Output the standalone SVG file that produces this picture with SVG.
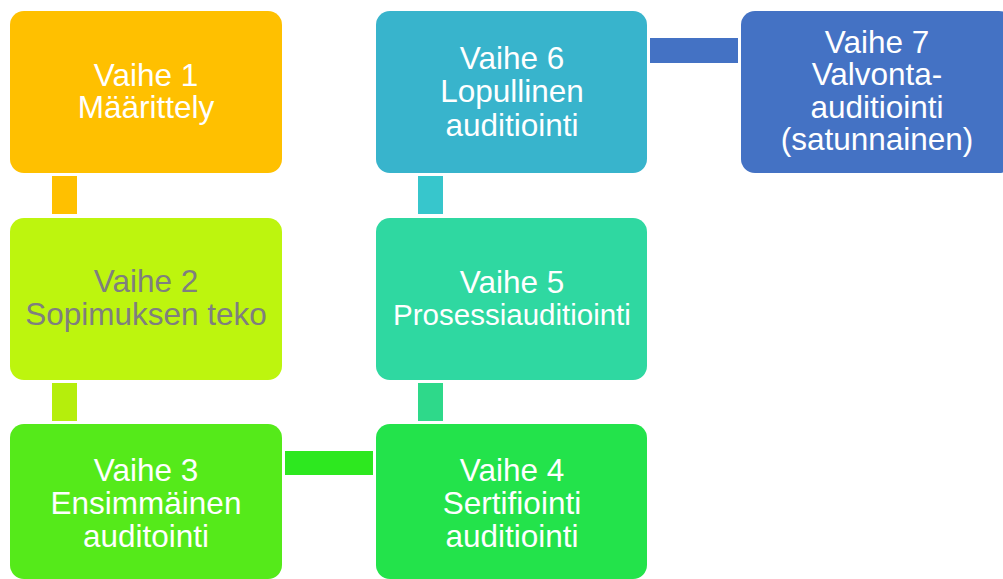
<svg xmlns="http://www.w3.org/2000/svg" width="1003" height="579" viewBox="0 0 1003 579">
<style>
.box{stroke:none}
.t{font-family:"Liberation Sans",Arial,sans-serif;font-size:31.5px;fill:#ffffff;text-anchor:middle}
.g{fill:#7f7f7f}
</style>
<rect width="1003" height="579" fill="#ffffff"/>
<g id="connectors">
<rect x="52" y="176" width="25" height="38" fill="#ffc000"/>
<rect x="52" y="383" width="25" height="38" fill="#b5ee0c"/>
<rect x="285" y="451" width="88" height="24" fill="#2de81f"/>
<rect x="418" y="383" width="25" height="38" fill="#2ed98a"/>
<rect x="418" y="176" width="25" height="38" fill="#37c6cc"/>
<rect x="650" y="38" width="88" height="25" fill="#4472c4"/>
</g>
<g id="node1">
<rect class="box" x="10" y="11" width="272" height="162" rx="14" fill="#ffc000"/>
<text class="t" x="146" y="86">Vaihe 1</text>
<text class="t" x="146" y="118">Määrittely</text>
</g>
<g id="node2">
<rect class="box" x="10" y="218" width="272" height="162" rx="14" fill="#bdf50e"/>
<text class="t g" x="146" y="292">Vaihe 2</text>
<text class="t g" x="146" y="325">Sopimuksen teko</text>
</g>
<g id="node3">
<rect class="box" x="10" y="424" width="272" height="155" rx="14" fill="#55ea1a"/>
<text class="t" x="146" y="481">Vaihe 3</text>
<text class="t" x="146" y="514">Ensimmäinen</text>
<text class="t" x="146" y="547">auditointi</text>
</g>
<g id="node4">
<rect class="box" x="376" y="424" width="271" height="155" rx="14" fill="#23e34b"/>
<text class="t" x="512" y="481">Vaihe 4</text>
<text class="t" x="512" y="514">Sertifiointi</text>
<text class="t" x="512" y="547">auditiointi</text>
</g>
<g id="node5">
<rect class="box" x="376" y="218" width="271" height="162" rx="14" fill="#2fd8a1"/>
<text class="t" x="512" y="293">Vaihe 5</text>
<text class="t" x="512" y="325" style="font-size:29.5px">Prosessiauditiointi</text>
</g>
<g id="node6">
<rect class="box" x="376" y="11" width="271" height="162" rx="14" fill="#38b4cc"/>
<text class="t" x="512" y="69">Vaihe 6</text>
<text class="t" x="512" y="102">Lopullinen</text>
<text class="t" x="512" y="136">auditiointi</text>
</g>
<g id="node7">
<rect class="box" x="741" y="11" width="272" height="162" rx="14" fill="#4472c4"/>
<text class="t" x="877" y="53">Vaihe 7</text>
<text class="t" x="877" y="85">Valvonta-</text>
<text class="t" x="877" y="118">auditiointi</text>
<text class="t" x="877" y="150">(satunnainen)</text>
</g>
</svg>
